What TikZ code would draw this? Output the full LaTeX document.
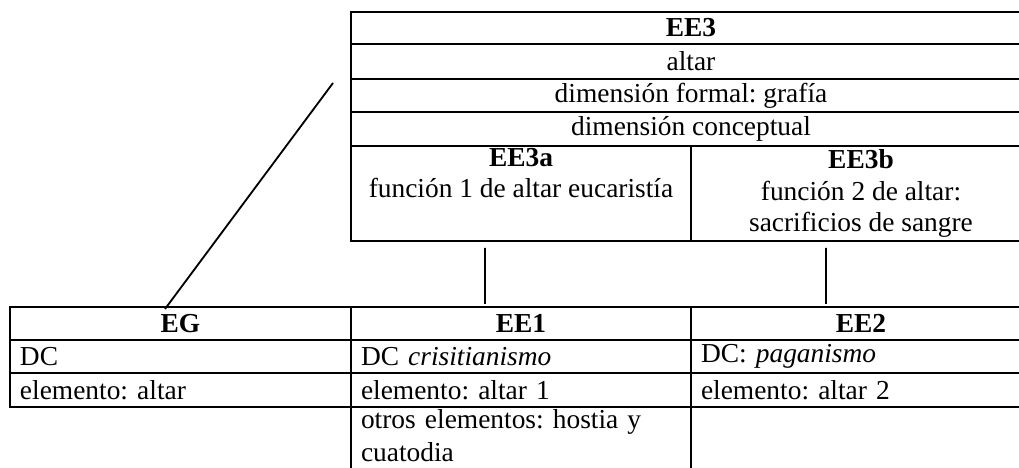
\documentclass[tikz,border=0pt]{standalone}
\usepackage{fontspec}
\setmainfont{Liberation Serif}
\frenchspacing
\usepackage{tikz}
\usetikzlibrary{positioning,calc}
\definecolor{ink}{HTML}{000000}
\tikzset{
  cell/.style={draw=ink,line width=1.4pt,anchor=north west,outer sep=0pt,inner xsep=0.25cm,inner ysep=0.5pt,align=center,font=\fontsize{19.5}{22.5}\selectfont},
  lcell/.style={cell,align=left},
  link/.style={draw=ink,line width=1.3pt}}

\begin{document}
\begin{tikzpicture}
  \useasboundingbox (0,0) rectangle (25.475,-11.7);
  % upper table
  \node[cell,minimum width=17cm,minimum height=0.8cm] (ee3) at (8.775,-0.3) {\textbf{EE3}};
  \node[cell,minimum width=17cm,minimum height=0.875cm] (altar) at (ee3.south west) {altar};
  \node[cell,minimum width=17cm,minimum height=0.825cm] (formal) at (altar.south west) {dimensión formal: grafía};
  \node[cell,minimum width=17cm,minimum height=0.85cm] (concept) at (formal.south west) {dimensión conceptual};
  \node[cell,minimum width=8.5cm,minimum height=2.375cm] (ee3a) at (concept.south west) {\textbf{EE3a}\\función 1 de altar eucaristía\\\strut};
  \node[cell,minimum width=8.5cm,minimum height=2.375cm] (ee3b) at (ee3a.north east) {\textbf{EE3b}\\función 2 de altar:\\sacrificios de sangre};
  % lower table
  \node[cell,minimum width=8.525cm,minimum height=0.825cm] (eg) at (0.25,-7.675) {\textbf{EG}};
  \node[cell,minimum width=8.5cm,minimum height=0.825cm] (ee1) at (eg.north east) {\textbf{EE1}};
  \node[cell,minimum width=8.5cm,minimum height=0.825cm] (ee2) at (ee1.north east) {\textbf{EE2}};
  \node[lcell,text width=8.025cm,minimum height=0.825cm] (dc0) at (eg.south west) {DC};
  \node[lcell,text width=8cm,minimum height=0.825cm] (dc1) at (ee1.south west) {DC \textit{crisitianismo}};
  \node[lcell,text width=8cm,minimum height=0.825cm] (dc2) at (ee2.south west) {DC: \textit{paganismo}};
  \node[lcell,text width=8.025cm,minimum height=0.85cm] (el0) at (dc0.south west) {elemento: altar};
  \node[lcell,text width=8cm,minimum height=0.85cm] (el1) at (dc1.south west) {elemento: altar 1};
  \node[lcell,text width=8cm,minimum height=0.85cm] (el2) at (dc2.south west) {elemento: altar 2};
  \node[lcell,inner ysep=2pt,text width=8cm,minimum height=1cm] (otros) at (el1.south west) {otros elementos: hostia y\\[1pt]cuatodia\\\strut};
  \node[lcell,text width=8cm,minimum height=3cm] (blank) at (el2.south west) {};
  % links
  \draw[link] ([xshift=-0.9cm,yshift=-0.175cm]ee3a.south) -- ([xshift=-0.9cm,yshift=0.075cm]ee1.north);
  \draw[link] ([xshift=-0.875cm,yshift=-0.175cm]ee3b.south) -- ([xshift=-0.875cm,yshift=0.075cm]ee2.north);
  \draw[link] ([xshift=-0.45cm,yshift=-0.1cm]formal.north west) -- ([xshift=-0.3875cm,yshift=-0.05cm]eg.north);
\end{tikzpicture}
\end{document}
